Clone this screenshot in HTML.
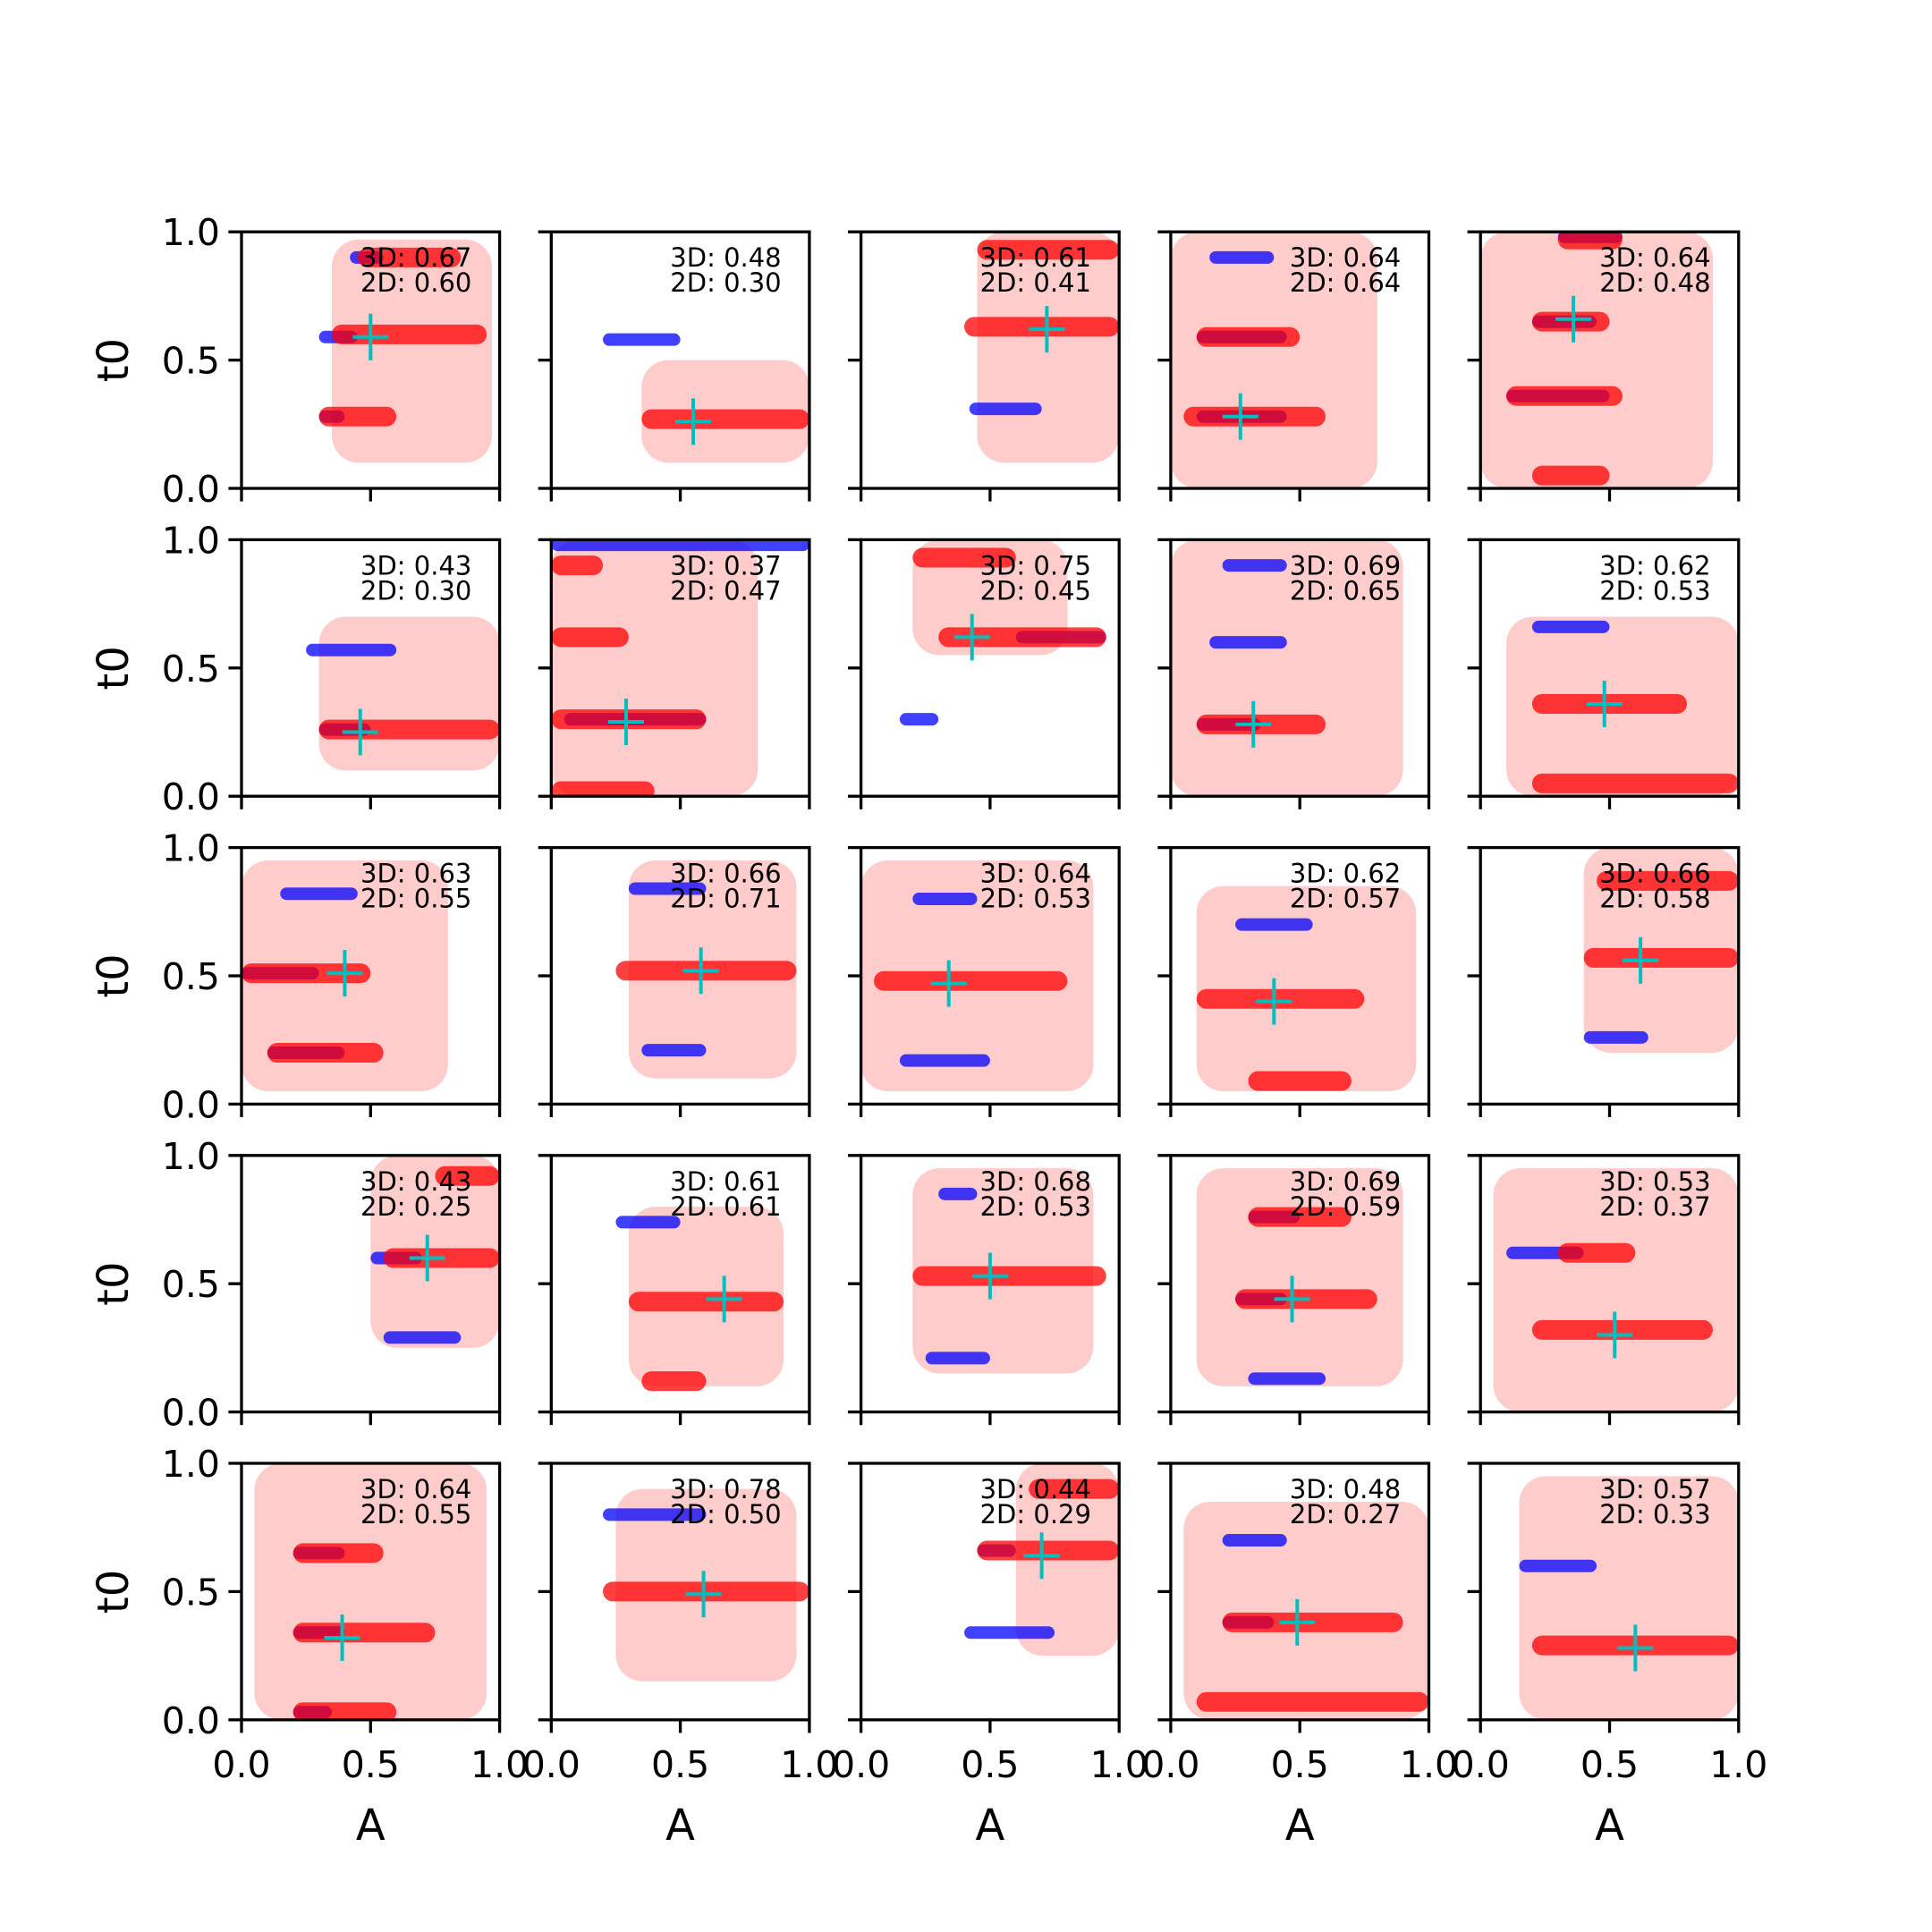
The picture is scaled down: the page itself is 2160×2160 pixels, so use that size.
<!DOCTYPE html>
<html><head><meta charset="utf-8">
<style>
html,body{margin:0;padding:0;background:#fff;}
svg{display:block;font-family:"DejaVu Sans","Liberation Sans",sans-serif;}
</style></head>
<body>
<svg id="fig" width="2160" height="2160" viewBox="0 0 2160 2160" xmlns="http://www.w3.org/2000/svg">
<rect width="2160" height="2160" fill="#fff"/>
</svg>
<script>
// Per-panel data (row-major, 5x5)
const scores3D = ["0.67","0.48","0.61","0.64","0.64","0.43","0.37","0.75","0.69","0.62","0.63","0.66","0.64","0.62","0.66","0.43","0.61","0.68","0.69","0.53","0.64","0.78","0.44","0.48","0.57"];
const scores2D = ["0.60","0.30","0.41","0.64","0.48","0.30","0.47","0.45","0.65","0.53","0.55","0.71","0.53","0.57","0.58","0.25","0.61","0.53","0.59","0.37","0.55","0.50","0.29","0.27","0.33"];
const crossA = [0.50,0.55,0.72,0.27,0.36, 0.46,0.29,0.43,0.32,0.48, 0.40,0.58,0.34,0.40,0.62, 0.72,0.67,0.50,0.47,0.52, 0.39,0.59,0.70,0.49,0.60];
const crossT = [0.59,0.26,0.62,0.28,0.66, 0.25,0.29,0.62,0.28,0.36, 0.51,0.52,0.47,0.40,0.56, 0.60,0.44,0.53,0.44,0.30, 0.32,0.49,0.64,0.38,0.28];
// halo spread per panel: [aMin,aMax,tMin,tMax]
const halos = [
 [0.35,0.97,0.10,0.97],[0.35,1.00,0.10,0.50],[0.45,1.00,0.10,1.00],[0.00,0.80,0.00,1.00],[0.00,0.90,0.00,1.00],
 [0.30,1.00,0.10,0.70],[0.00,0.80,0.00,1.00],[0.20,0.80,0.55,1.00],[0.00,0.90,0.00,1.00],[0.10,1.00,0.00,0.70],
 [0.00,0.80,0.05,0.95],[0.30,0.95,0.10,0.95],[0.00,0.90,0.05,0.95],[0.10,0.95,0.05,0.85],[0.40,1.00,0.20,1.00],
 [0.50,1.00,0.25,1.00],[0.30,0.90,0.10,0.80],[0.20,0.90,0.15,0.95],[0.10,0.90,0.10,0.95],[0.05,1.00,0.00,0.95],
 [0.05,0.95,0.00,1.00],[0.25,0.95,0.15,0.90],[0.60,1.00,0.25,1.00],[0.05,1.00,0.00,0.85],[0.15,1.00,0.00,0.95]
];
// red bands per panel: [aMin,aMax,t]
const redBands = [
 [[0.35,0.95,0.60],[0.30,0.60,0.28],[0.45,0.85,0.90]],
 [[0.35,1.00,0.27]],
 [[0.40,1.00,0.63],[0.45,1.00,0.93]],
 [[0.10,0.50,0.59],[0.05,0.60,0.28]],
 [[0.20,0.50,0.05],[0.20,0.50,0.65],[0.10,0.55,0.36],[0.30,0.55,0.97]],
 [[0.30,1.00,0.26]],
 [[0.00,0.30,0.62],[0.00,0.60,0.30],[0.00,0.40,0.02],[0.00,0.20,0.90]],
 [[0.20,0.60,0.93],[0.30,0.95,0.62]],
 [[0.10,0.60,0.28]],
 [[0.20,0.80,0.36],[0.20,1.00,0.05]],
 [[0.00,0.50,0.51],[0.10,0.55,0.20]],
 [[0.25,0.95,0.52]],
 [[0.05,0.80,0.48]],
 [[0.10,0.75,0.41],[0.30,0.70,0.09]],
 [[0.45,1.00,0.87],[0.40,1.00,0.57]],
 [[0.75,1.00,0.92],[0.55,1.00,0.60]],
 [[0.30,0.90,0.43],[0.35,0.60,0.12]],
 [[0.20,0.95,0.53]],
 [[0.30,0.70,0.76],[0.25,0.80,0.44]],
 [[0.20,0.90,0.32],[0.30,0.60,0.62]],
 [[0.20,0.55,0.65],[0.20,0.75,0.34],[0.20,0.60,0.03]],
 [[0.20,1.00,0.50]],
 [[0.65,1.00,0.90],[0.45,1.00,0.66]],
 [[0.20,0.90,0.38],[0.10,1.00,0.07]],
 [[0.20,1.00,0.29]]
];
// blue bands per panel: [aMin,aMax,t]
const blueBands = [
 [[0.30,0.45,0.59],[0.30,0.40,0.28],[0.42,0.55,0.90]],
 [[0.20,0.50,0.58]],
 [[0.42,0.70,0.31]],
 [[0.15,0.40,0.90],[0.10,0.45,0.59],[0.10,0.45,0.28]],
 [[0.30,0.55,0.98],[0.20,0.45,0.65],[0.10,0.50,0.36]],
 [[0.25,0.60,0.57],[0.30,0.50,0.26]],
 [[0.05,0.60,0.30],[0.00,1.00,0.98]],
 [[0.15,0.30,0.30],[0.60,0.95,0.62]],
 [[0.20,0.45,0.90],[0.15,0.45,0.60],[0.10,0.35,0.28]],
 [[0.20,0.50,0.66]],
 [[0.15,0.45,0.82],[0.00,0.30,0.51],[0.10,0.40,0.20]],
 [[0.30,0.60,0.84],[0.35,0.60,0.21]],
 [[0.20,0.45,0.80],[0.15,0.50,0.17]],
 [[0.25,0.55,0.70]],
 [[0.40,0.65,0.26]],
 [[0.50,0.70,0.60],[0.55,0.85,0.29]],
 [[0.25,0.50,0.74]],
 [[0.30,0.45,0.85],[0.25,0.50,0.21]],
 [[0.30,0.50,0.76],[0.25,0.45,0.44],[0.30,0.60,0.13]],
 [[0.10,0.40,0.62]],
 [[0.20,0.40,0.65],[0.20,0.40,0.34],[0.20,0.35,0.03]],
 [[0.20,0.60,0.80]],
 [[0.40,0.75,0.34],[0.45,0.60,0.66]],
 [[0.20,0.45,0.70],[0.20,0.40,0.38]],
 [[0.15,0.45,0.60]]
];
const tickVals = [0, 0.5, 1.0];
const tickLabels = ["0.0", "0.5", "1.0"];

const NS = "http://www.w3.org/2000/svg";
const svg = document.getElementById('fig');
const L0 = 270, T0 = 259.2, W = 288.6, H = 286.8, GX = 57.7, GY = 57.4;
function mk(tag, attrs, parent) {
  const e = document.createElementNS(NS, tag);
  for (const k in attrs) e.setAttribute(k, attrs[k]);
  (parent || svg).appendChild(e);
  return e;
}
for (let r = 0; r < 5; r++) {
  for (let c = 0; c < 5; c++) {
    const i = r * 5 + c;
    const left = L0 + c * (W + GX), top = T0 + r * (H + GY), bottom = top + H;
    const xs = a => left + a * W;
    const ys = t => bottom - t * H;
    const g = mk('g', {});
    
    
    const clipId = 'clip' + i;
    const cp = mk('clipPath', {id: clipId}, g);
    mk('rect', {x: left, y: top, width: W, height: H}, cp);
    const plot = mk('g', {'clip-path': 'url(#' + clipId + ')'}, g);
    const h = halos[i];
    const halo = mk('rect', {x: xs(h[0]), y: ys(h[3]), width: xs(h[1]) - xs(h[0]), height: ys(h[2]) - ys(h[3]), rx: 30, fill: '#ff0000', 'fill-opacity': 0.2}, plot);
    
    
    blueBands[i].forEach(b => {
      const e = mk('rect', {x: xs(b[0]), y: ys(b[2]) - 7, width: xs(b[1]) - xs(b[0]), height: 14, rx: 7, fill: '#0000ff', 'fill-opacity': 0.75}, plot);
      
      
    });
    redBands[i].forEach(b => {
      const e = mk('rect', {x: xs(b[0]), y: ys(b[2]) - 11, width: xs(b[1]) - xs(b[0]), height: 22, rx: 11, fill: '#ff0000', 'fill-opacity': 0.75}, plot);
      
      
    });
    const cx = xs(crossA[i]), cy = ys(crossT[i]);
    const cr = mk('path', {d: 'M' + (cx - 20) + ' ' + cy + 'H' + (cx + 20) + 'M' + cx + ' ' + (cy - 26) + 'V' + (cy + 26), stroke: '#00bfbf', 'stroke-width': 4, fill: 'none'}, plot);
    
    
    const t1 = mk('text', {x: left + 133, y: top + 39, 'font-size': 29, fill: '#000'}, g);
    t1.textContent = '3D: ' + scores3D[i];
    
    
    const t2 = mk('text', {x: left + 133, y: top + 67, 'font-size': 29, fill: '#000'}, g);
    t2.textContent = '2D: ' + scores2D[i];
    
    
    const fr = mk('rect', {x: left, y: top, width: W, height: H, fill: 'none', stroke: '#000', 'stroke-width': 3.3}, g);
    
    
    tickVals.forEach((v, k) => {
      mk('line', {x1: left, x2: left - 14.6, y1: ys(v), y2: ys(v), stroke: '#000', 'stroke-width': 3.3}, g);
      mk('line', {x1: xs(v), x2: xs(v), y1: bottom, y2: bottom + 14.6, stroke: '#000', 'stroke-width': 3.3}, g);
      if (c === 0) {
        const yl = mk('text', {x: left - 24, y: ys(v) + 15, 'font-size': 41, 'text-anchor': 'end', fill: '#000'}, g);
        yl.textContent = tickLabels[k];
        
        
      }
      if (r === 4) {
        const xl = mk('text', {x: xs(v), y: bottom + 64, 'font-size': 41, 'text-anchor': 'middle', fill: '#000'}, g);
        xl.textContent = tickLabels[k];
        
        
      }
    });
    if (c === 0) {
      const yt = mk('text', {x: 0, y: 0, 'font-size': 48, 'text-anchor': 'middle', fill: '#000', transform: 'translate(143,' + (top + H / 2) + ') rotate(-90)'}, g);
      yt.textContent = 't0';
      
      
    }
    if (r === 4) {
      const xt = mk('text', {x: left + W / 2, y: bottom + 134, 'font-size': 48, 'text-anchor': 'middle', fill: '#000'}, g);
      xt.textContent = 'A';
      
      
    }
  }
}
</script>
</body></html>
